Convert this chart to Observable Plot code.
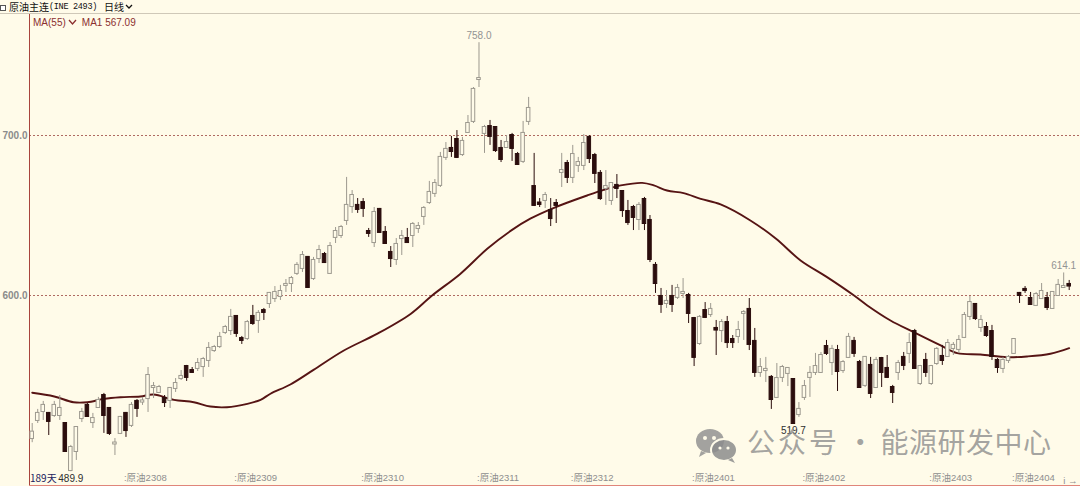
<!DOCTYPE html>
<html><head><meta charset="utf-8">
<script src="https://cdn.jsdelivr.net/npm/d3@7"></script>
<script src="https://cdn.jsdelivr.net/npm/@observablehq/plot@0.6"></script>
<style>
html,body{margin:0;padding:0;background:#fffbe9;}
body{width:1080px;height:486px;overflow:hidden;position:relative;font-family:"Liberation Sans",Arial,"Noto Sans CJK SC",sans-serif;}
#hdr{position:absolute;left:0;top:0;width:1080px;height:13px;border-bottom:1px solid #cfc8b8;font-size:10px;line-height:14px;color:#111;white-space:nowrap;font-family:"Noto Sans CJK SC",sans-serif;}
#hdr .sq{position:absolute;left:0;top:5px;width:4px;height:4px;border:1px solid #555;background:#fff;}
#hdr .t1{position:absolute;left:9px;top:0;}
#hdr .mono{position:absolute;left:49px;top:0;font-family:"Liberation Mono",monospace;font-size:8.5px;letter-spacing:-0.3px;}
#hdr .t2{position:absolute;left:104px;top:0;}
#hdr .chev{position:absolute;left:125px;top:4px;}
#chart{position:absolute;left:0;top:14px;}
#ma{position:absolute;left:33px;top:17px;font-size:10px;line-height:12px;color:#8b2f2f;white-space:nowrap;}
#days{position:absolute;left:30px;top:472px;font-size:10px;line-height:12px;color:#22225e;font-family:"Noto Sans CJK SC",sans-serif;}
#wm{position:absolute;left:695px;top:421px;white-space:nowrap;color:rgba(140,140,140,0.8);font-family:"Noto Sans CJK SC",sans-serif;font-size:28px;line-height:40px;}
#wm svg{vertical-align:middle;margin-right:8px;}
#wm .a{letter-spacing:3px;}
#wm .b{letter-spacing:0.5px;}
</style></head>
<body>
<div id="hdr"><span class="sq"></span><span class="t1">原油主连</span><span class="mono">(INE 2493)</span><span class="t2">日线</span>
<svg class="chev" width="8" height="6"><path d="M1 1 L4 4 L7 1" fill="none" stroke="#111" stroke-width="1.3"/></svg></div>
<div id="chart"></div>
<div id="ma">MA(55)<svg width="10" height="7" style="margin:0 4px 0 2px"><path d="M1 1 L4.5 5 L8 1" fill="none" stroke="#8b2f2f" stroke-width="1.3"/></svg>MA1 567.09</div>
<div id="days">189天</div>
<div id="wm"><svg width="44" height="38" viewBox="0 0 44 38"><ellipse cx="15" cy="15" rx="14" ry="12" fill="rgba(140,140,140,0.8)"/><path d="M6 25 L4 31 L11 27 Z" fill="rgba(140,140,140,0.8)"/><ellipse cx="29" cy="24" rx="13" ry="11" fill="rgba(140,140,140,0.85)" stroke="#fffbe9" stroke-width="2"/><path d="M37 32 L40 37 L33 34 Z" fill="rgba(140,140,140,0.85)"/><circle cx="10" cy="12" r="2" fill="#fffbe9"/><circle cx="19" cy="12" r="2" fill="#fffbe9"/><circle cx="25" cy="22" r="1.6" fill="#fffbe9"/><circle cx="33" cy="22" r="1.6" fill="#fffbe9"/></svg><span class="a">公众号</span> · <span class="b">能源研发中心</span></div>
<script>
// ---- data (daily OHLC, 189 trading days) ----
const open = [510.6,521.9,527.5,526.3,525.0,525.0,520.0,490.6,502.5,523.1,531.3,520.6,530.0,537.5,529.4,507.2,513.8,526.3,518.8,533.8,
533.4,535.6,542.5,539.4,535.6,534.4,541.9,548.1,555.6,553.1,554.4,555.6,559.4,565.6,568.1,576.9,578.1,586.9,573.1,573.1,
586.9,584.4,590.6,595.0,598.1,599.4,606.3,607.5,613.8,616.9,623.8,610.6,623.1,625.6,613.8,636.3,637.5,646.9,655.6,656.3,
658.1,640.0,633.1,653.8,639.4,626.9,622.5,635.6,635.6,637.5,641.9,649.4,658.1,663.8,668.8,686.3,691.9,697.5,688.1,701.9,
708.8,735.0,701.3,705.6,705.0,691.9,692.5,700.0,688.1,683.8,708.8,668.1,657.8,659.4,653.1,657.5,676.9,682.5,673.8,681.3,
681.3,698.8,687.5,676.3,666.9,659.4,668.8,665.0,652.5,655.0,647.5,660.0,646.9,618.8,599.4,595.0,599.4,598.8,601.3,600.0,
585.6,570.0,590.6,588.1,579.4,578.1,583.1,572.5,574.4,588.8,591.3,571.3,551.9,553.1,548.8,536.3,548.8,551.3,547.5,525.6,
536.3,548.8,551.9,551.9,568.1,558.1,565.6,553.1,561.3,571.3,558.1,543.8,556.3,542.5,560.6,554.4,542.5,551.9,561.3,563.8,
577.5,545.0,559.4,545.0,557.5,561.9,561.9,566.9,566.3,573.8,586.9,594.4,580.0,580.0,577.5,559.4,554.4,559.4,563.8,601.3,
603.8,598.1,593.8,598.1,598.1,591.9,600.0,605.0,606.9];
const high = [520.0,528.8,533.8,526.9,533.8,537.5,520.6,506.3,518.0,529.4,532.5,526.3,536.3,538.8,530.0,510.6,524.4,526.9,533.1,535.0,
536.3,555.0,545.6,543.8,537.5,542.5,548.1,553.1,556.3,555.0,560.6,561.3,570.6,568.8,576.9,581.3,591.3,587.5,574.4,584.4,
593.8,590.6,591.9,601.9,605.6,606.3,610.0,611.9,620.6,627.5,624.4,623.8,631.3,626.9,633.1,642.5,643.8,673.8,665.6,660.6,
660.6,641.9,655.0,654.4,643.1,630.6,635.6,640.6,641.9,645.6,645.6,655.6,671.3,672.5,689.4,695.6,699.4,703.1,698.8,712.5,
730.0,758.0,706.3,709.4,705.6,696.9,700.0,701.3,689.4,708.8,723.8,688.8,660.6,664.4,660.6,660.0,688.8,684.4,693.8,686.3,
700.6,700.0,688.8,678.1,678.1,670.6,675.6,665.6,659.4,656.3,658.1,661.3,650.0,620.6,604.4,603.1,606.3,606.9,610.6,601.3,
586.3,587.5,595.6,595.0,584.4,585.0,586.9,575.0,583.8,590.6,598.1,579.4,560.6,561.3,550.0,557.5,556.3,555.0,548.1,533.1,
546.9,555.6,563.8,564.4,571.9,568.8,568.8,559.4,576.3,573.8,559.4,561.9,561.3,561.3,561.3,562.5,543.8,559.4,564.4,576.3,
578.8,556.3,563.8,556.3,567.5,568.8,572.5,570.6,575.0,589.4,599.4,595.0,587.5,583.1,581.3,560.6,561.3,562.5,573.1,601.9,
605.6,601.9,601.9,607.5,601.9,602.5,610.0,614.1,609.4];
const low = [508.0,520.0,521.9,512.5,523.8,521.9,501.9,489.9,496.9,520.6,523.8,516.9,529.4,513.8,512.5,500.0,513.1,511.3,517.5,523.8,
531.3,526.9,535.6,538.8,530.0,529.4,539.4,546.9,546.3,551.3,552.5,548.8,555.0,564.4,566.9,575.6,575.0,573.8,569.4,571.9,
581.3,576.3,584.4,591.9,595.6,596.9,601.9,601.9,612.5,614.4,604.4,609.4,620.0,620.0,613.8,632.5,635.6,643.8,651.3,651.3,
648.8,636.3,630.0,638.8,632.5,617.5,618.8,625.0,632.5,630.0,638.8,643.8,656.9,661.3,667.5,684.4,686.3,685.6,686.9,701.3,
707.5,730.0,688.8,693.8,689.4,683.1,691.9,683.8,681.3,682.5,706.3,655.6,655.0,654.4,643.1,645.0,667.5,670.0,670.0,676.9,
678.1,682.5,670.0,659.4,656.3,656.3,660.6,648.8,643.8,640.6,640.6,640.6,620.6,601.3,588.8,591.9,589.4,597.5,598.1,582.5,
555.6,568.8,585.6,586.3,562.5,570.6,566.9,566.9,570.0,571.9,565.6,548.8,548.8,545.6,528.8,535.6,545.6,543.1,519.7,523.8,
534.4,536.3,550.0,551.3,562.5,550.0,540.0,551.3,560.6,561.3,541.9,542.5,535.6,542.5,542.5,548.1,532.5,546.9,553.1,557.5,
553.8,543.8,548.8,543.8,556.3,556.3,561.3,562.5,563.8,573.1,584.4,584.4,576.9,573.8,559.4,551.3,551.3,557.5,563.8,595.0,
601.3,593.8,593.1,597.5,590.6,591.3,599.4,604.4,603.1];
const close = [514.6,526.3,531.3,521.3,531.3,529.4,502.5,505.0,517.5,526.9,524.4,523.1,534.4,525.0,513.8,507.8,523.8,515.6,531.3,529.4,
534.1,550.0,543.1,542.5,533.1,541.9,545.0,549.4,548.8,551.9,557.5,560.0,566.9,567.5,573.8,580.0,586.3,576.3,571.9,583.1,
582.5,588.8,589.4,601.3,601.9,602.5,606.9,610.6,618.8,625.0,605.0,621.9,628.1,620.6,630.6,640.0,642.5,656.3,662.5,653.8,
654.4,638.8,651.9,639.4,632.5,623.1,631.9,636.9,633.1,644.4,643.1,654.4,664.4,670.0,686.3,691.3,690.0,686.3,696.3,707.5,
728.8,735.6,705.0,699.4,690.6,685.0,695.6,691.9,681.9,701.3,716.9,656.3,656.9,662.5,648.1,656.3,678.1,673.8,688.1,683.1,
695.0,685.6,676.3,660.6,668.1,670.0,666.9,653.1,645.6,648.8,656.3,645.0,622.5,607.5,594.4,596.3,594.4,604.4,601.9,588.8,
561.3,586.3,586.3,591.3,578.4,583.1,570.6,570.6,578.1,589.4,569.4,551.9,555.0,553.8,535.0,548.1,555.0,554.4,520.0,528.8,
543.1,551.3,555.6,562.5,563.8,566.3,552.5,558.1,573.8,563.8,542.5,561.3,538.8,559.4,551.9,548.8,539.4,557.5,556.3,570.0,
554.4,555.6,551.9,555.6,566.3,559.4,570.0,568.8,571.9,587.5,595.6,585.6,584.4,575.0,561.9,555.0,559.4,561.3,572.5,600.0,
603.1,594.4,600.6,602.5,592.5,601.9,606.3,605.6,605.9];
// MA(55) line read at positions along the day index
const maIndex = [0,4,7.5,10,13,16,19.6,22,25.7,29.3,32.3,35.3,39,41.4,43.2,46.8,51,56.5,62.5,68.6,72.5,77.6,82.5,87,90.3,94.6,100.6,103.6,106.7,110.6,112.7,115.1,118.1,121.2,124.8,130.2,134.8,139.3,144.1,149,151.4,155.6,159.8,164.7,167.7,171.9,176.8,180.4,184.6,188];
const maValue = [539.2,536.9,533.3,533.3,535.4,536.4,536.9,538.1,534.8,533.3,530.6,530.2,532.3,534.8,538.6,544.4,553.5,565.6,576,588.5,600,613.5,629.2,641,648,654.8,662.5,666,668.8,670.4,668.8,665.6,664,660.4,656.9,646.9,635.6,621.9,611.5,600,593.8,584.4,577.1,568.8,564,563.1,561.4,561.9,563.6,567.1];
// contract month axis labels
const monthTickIndex = [17,37,60,81,98,120,140,163,178];
const monthLabels = ["原油2308","原油2309","原油2310","原油2311","原油2312","原油2401","原油2402","原油2403","原油2404"];
const yTicks = [600,700];
// annotated extremes (day index)
const highMarks = [81,187];
const lowMarks = [138,7];

const bg = "#fffbe9", upC = "#9d998f", dnC = "#2b0d0d";
const days = open.map((o,i)=>({i, o, h:high[i], l:low[i], c:close[i], up: close[i] >= o}));
const ma = maIndex.map((d,k)=>({i:d, v:maValue[k]}));
const labMap = new Map(monthTickIndex.map((d,k)=>[d, monthLabels[k]]));

const chart = Plot.plot({
  width:1080, height:472,
  marginLeft:29, marginRight:0, marginTop:0, marginBottom:1,
  style:{background:bg, fontFamily:"Liberation Sans, Noto Sans CJK SC, sans-serif", fontSize:"10px", overflow:"visible"},
  x:{type:"linear", domain:[-0.49,190.05], axis:null},
  y:{domain:[481.25,775.625], axis:null},
  color:{type:"identity"},
  marks:[
    Plot.gridY(yTicks, {stroke:"#a65a52", strokeOpacity:0.9, strokeDasharray:"2,2"}),
    Plot.axisY(yTicks, {anchor:"left", tickSize:0, tickPadding:2, tickFormat:d=>d.toFixed(1), fill:"#8b8b8b", fontWeight:"bold", fontSize:10}),
    Plot.axisX(monthTickIndex, {anchor:"bottom", tickSize:0, tickPadding:-11, textAnchor:"start", dx:-2, tickFormat:d=>":"+labMap.get(d), fill:"#8e8e8e", fontSize:9.5}),
    Plot.frame({anchor:"left", stroke:"#a8443c"}),
    Plot.frame({anchor:"bottom", stroke:"#e0857a"}),
    Plot.line(ma, {x:"i", y:"v", stroke:"#561414", strokeWidth:1.9, curve:"catmull-rom"}),
    Plot.ruleX(days, {x:"i", y1:"l", y2:"h", stroke:d=>d.up?upC:dnC, strokeWidth:1}),
    Plot.rect(days, {x1:d=>d.i-0.32, x2:d=>d.i+0.32, y1:"o", y2:"c", fill:d=>d.up?bg:dnC, stroke:d=>d.up?upC:dnC, strokeWidth:1, insetTop:-0.5, insetBottom:-0.5}),
    Plot.text(highMarks.map(k=>days[k]), {x:"i", y:"h", text:d=>d.h.toFixed(1), dy:-7, fill:"#939393", fontSize:10}),
    Plot.text(lowMarks.map(k=>days[k]), {x:"i", y:"l", text:d=>d.l.toFixed(1), dy:7, fill:"#2e2e2e", fontSize:10})
  ]
});
document.getElementById("chart").appendChild(chart);
</script>
</body></html>
